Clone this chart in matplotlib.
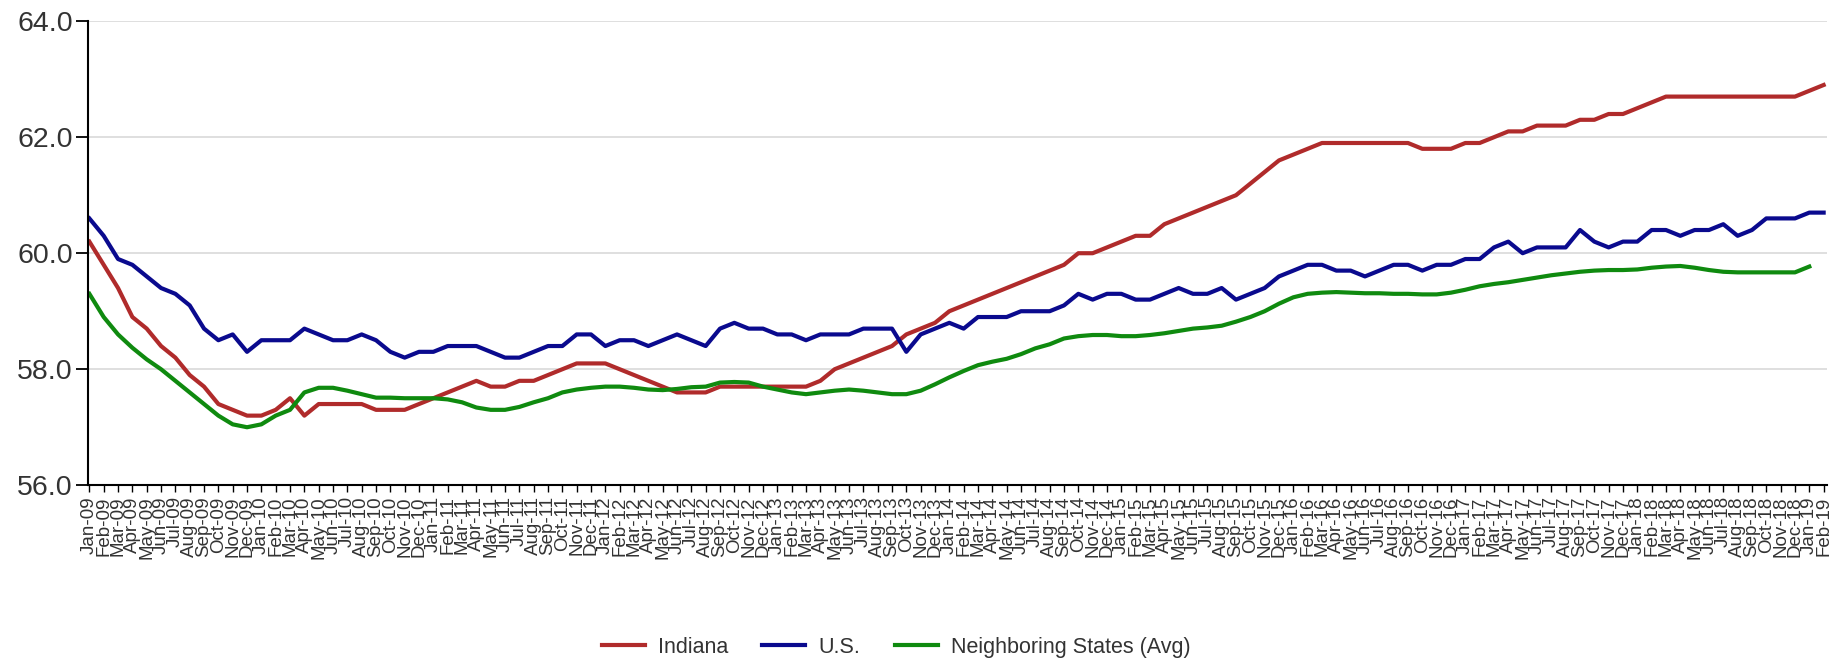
import numpy as np
import matplotlib
matplotlib.use("Agg")
import matplotlib.pyplot as plt

plt.rcParams['font.family'] = ['Liberation Sans', 'DejaVu Sans']

# monthly values, Jan-09 .. Feb-19
months = ["Jan", "Feb", "Mar", "Apr", "May", "Jun", "Jul", "Aug", "Sep", "Oct", "Nov", "Dec"]
years = ["09", "10", "11", "12", "13", "14", "15", "16", "17", "18", "19"]

indiana = [60.2, 59.8, 59.4, 58.9, 58.7, 58.4, 58.2, 57.9, 57.7, 57.4, 57.3, 57.2,
           57.2, 57.3, 57.5, 57.2, 57.4, 57.4, 57.4, 57.4, 57.3, 57.3, 57.3, 57.4,
           57.5, 57.6, 57.7, 57.8, 57.7, 57.7, 57.8, 57.8, 57.9, 58.0, 58.1, 58.1,
           58.1, 58.0, 57.9, 57.8, 57.7, 57.6, 57.6, 57.6, 57.7, 57.7, 57.7, 57.7,
           57.7, 57.7, 57.7, 57.8, 58.0, 58.1, 58.2, 58.3, 58.4, 58.6, 58.7, 58.8,
           59.0, 59.1, 59.2, 59.3, 59.4, 59.5, 59.6, 59.7, 59.8, 60.0, 60.0, 60.1,
           60.2, 60.3, 60.3, 60.5, 60.6, 60.7, 60.8, 60.9, 61.0, 61.2, 61.4, 61.6,
           61.7, 61.8, 61.9, 61.9, 61.9, 61.9, 61.9, 61.9, 61.9, 61.8, 61.8, 61.8,
           61.9, 61.9, 62.0, 62.1, 62.1, 62.2, 62.2, 62.2, 62.3, 62.3, 62.4, 62.4,
           62.5, 62.6, 62.7, 62.7, 62.7, 62.7, 62.7, 62.7, 62.7, 62.7, 62.7, 62.7,
           62.8, 62.9]

us = [60.6, 60.3, 59.9, 59.8, 59.6, 59.4, 59.3, 59.1, 58.7, 58.5, 58.6, 58.3,
      58.5, 58.5, 58.5, 58.7, 58.6, 58.5, 58.5, 58.6, 58.5, 58.3, 58.2, 58.3,
      58.3, 58.4, 58.4, 58.4, 58.3, 58.2, 58.2, 58.3, 58.4, 58.4, 58.6, 58.6,
      58.4, 58.5, 58.5, 58.4, 58.5, 58.6, 58.5, 58.4, 58.7, 58.8, 58.7, 58.7,
      58.6, 58.6, 58.5, 58.6, 58.6, 58.6, 58.7, 58.7, 58.7, 58.3, 58.6, 58.7,
      58.8, 58.7, 58.9, 58.9, 58.9, 59.0, 59.0, 59.0, 59.1, 59.3, 59.2, 59.3,
      59.3, 59.2, 59.2, 59.3, 59.4, 59.3, 59.3, 59.4, 59.2, 59.3, 59.4, 59.6,
      59.7, 59.8, 59.8, 59.7, 59.7, 59.6, 59.7, 59.8, 59.8, 59.7, 59.8, 59.8,
      59.9, 59.9, 60.1, 60.2, 60.0, 60.1, 60.1, 60.1, 60.4, 60.2, 60.1, 60.2,
      60.2, 60.4, 60.4, 60.3, 60.4, 60.4, 60.5, 60.3, 60.4, 60.6, 60.6, 60.6,
      60.7, 60.7]

# neighbouring states average stops at Jan-19
neighbors = [59.3, 58.9, 58.6, 58.37, 58.17, 58.0, 57.8, 57.6, 57.4, 57.2, 57.05, 57.0,
             57.05, 57.2, 57.3, 57.6, 57.68, 57.68, 57.63, 57.57, 57.51, 57.51, 57.5, 57.5,
             57.5, 57.48, 57.43, 57.34, 57.3, 57.3, 57.35, 57.43, 57.5, 57.6, 57.65, 57.68,
             57.7, 57.7, 57.68, 57.65, 57.64, 57.66, 57.69, 57.7, 57.77, 57.78, 57.77, 57.7,
             57.65, 57.6, 57.57, 57.6, 57.63, 57.65, 57.63, 57.6, 57.57, 57.57, 57.63, 57.74,
             57.86, 57.97, 58.07, 58.13, 58.18, 58.26, 58.36, 58.43, 58.53, 58.57, 58.59, 58.59,
             58.57, 58.57, 58.59, 58.62, 58.66, 58.7, 58.72, 58.75, 58.82, 58.9, 59.0, 59.13,
             59.24, 59.3, 59.32, 59.33, 59.32, 59.31, 59.31, 59.3, 59.3, 59.29, 59.29, 59.32,
             59.37, 59.43, 59.47, 59.5, 59.54, 59.58, 59.62, 59.65, 59.68, 59.7, 59.71, 59.71,
             59.72, 59.75, 59.77, 59.78, 59.75, 59.71, 59.68, 59.67, 59.67, 59.67, 59.67, 59.67,
             59.77]

labels = [m + "-" + y for y in years for m in months][:len(indiana)]
x = np.arange(len(labels))

fig = plt.figure(figsize=(18.32, 6.62), dpi=100)
ax = fig.add_axes([0.048, 0.267, 0.949, 0.701])

ax.plot(x[:len(indiana)], indiana, color="#b02b2b", lw=3.0, label="Indiana")
ax.plot(x[:len(us)], us, color="#0a0a8e", lw=3.0, label="U.S.")
ax.plot(x[:len(neighbors)], neighbors, color="#0f8a0f", lw=3.0, label="Neighboring States (Avg)")

ax.set_ylim(56, 64)
ax.set_xlim(-0.1, 121.2)
ax.set_yticks([56, 58, 60, 62, 64])
ax.set_yticklabels(["%.1f" % v for v in [56, 58, 60, 62, 64]], fontsize=20.5, color="#333333")
ax.set_xticks(x)
ax.set_xticklabels(labels, rotation=90, fontsize=13.5, color="#333333")
ax.tick_params(axis="y", length=9, width=1.3, pad=2)
ax.tick_params(axis="x", length=5, width=1.0, pad=3)

ax.grid(axis="y", color="#dcdcdc", lw=1.3)
ax.set_axisbelow(True)
for s in ["top", "right"]:
    ax.spines[s].set_visible(False)
ax.spines["left"].set_linewidth(1.5)
ax.spines["bottom"].set_linewidth(1.5)

fig.legend(loc="center", bbox_to_anchor=(0.489, 0.022), ncol=3, frameon=False,
           fontsize=15.5, handlelength=2.0, handletextpad=0.6, columnspacing=1.6,
           labelcolor="#333333")

fig.savefig("out.png", dpi=100)
